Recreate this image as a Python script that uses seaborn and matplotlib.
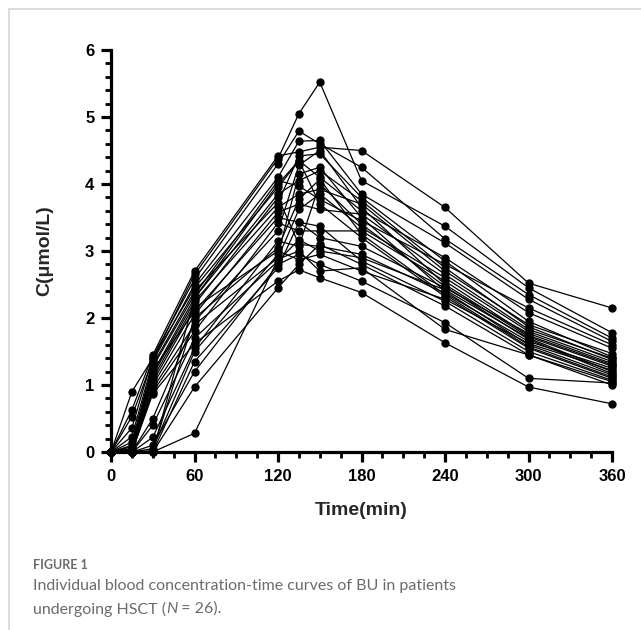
import numpy as np
import pandas as pd
import matplotlib
matplotlib.use("Agg")
import matplotlib.pyplot as plt
from matplotlib.lines import Line2D
from matplotlib.ticker import MultipleLocator
import seaborn as sns

times = [0, 15, 30, 60, 120, 135, 150, 180, 240, 300, 360]
c0 = [0.0] * 26
c15 = [0.90, 0.63, 0.53, 0.36, 0.23, 0.15, 0.10, 0.08, 0.05, 0.05, 0.03, 0.02, 0, 0, 0, 0, 0, 0, 0, 0, 0, 0, 0, 0, 0, 0]
c30 = [1.40, 1.45, 1.38, 1.42, 1.35, 1.30, 1.27, 1.22, 1.18, 1.15, 1.10, 1.05, 1.00, 0.95, 0.90, 0.87, 0.50, 0.40, 0.22, 0.10, 0.05, 0.02, 0, 0, 0, 0]
c60 = [2.45, 2.70, 2.65, 2.58, 2.50, 2.40, 2.35, 2.10, 2.30, 2.25, 2.20, 2.15, 2.05, 1.90, 1.80, 1.62, 1.95, 1.70, 1.55, 1.20, 1.50, 2.00, 2.30, 1.35, 0.97, 0.28]
c120 = [3.95, 4.42, 4.38, 4.30, 4.10, 3.72, 4.05, 3.50, 3.85, 3.65, 3.80, 3.00, 3.58, 2.90, 3.42, 2.55, 3.30, 2.85, 3.15, 2.80, 2.95, 3.05, 4.00, 2.75, 2.45, 2.88]
c135 = [4.35, 4.48, 5.05, 4.79, 4.64, 4.42, 3.97, 3.43, 4.05, 3.85, 3.10, 2.87, 3.70, 3.62, 3.30, 2.72, 4.28, 3.17, 3.07, 2.95, 4.15, 3.77, 4.35, 3.43, 2.80, 3.00]
c150 = [4.10, 4.55, 5.52, 4.60, 4.65, 4.45, 3.77, 3.20, 4.20, 3.92, 3.07, 2.95, 3.62, 3.85, 3.30, 2.60, 4.50, 3.00, 4.00, 2.80, 4.25, 4.07, 3.70, 3.37, 3.10, 2.70]
c180 = [3.60, 4.50, 4.05, 4.25, 3.85, 3.80, 3.45, 3.07, 3.75, 3.70, 2.95, 2.70, 3.55, 3.35, 3.30, 2.38, 3.65, 2.90, 3.40, 2.55, 3.50, 3.25, 3.20, 2.85, 2.80, 2.75]
c240 = [2.90, 3.65, 3.37, 3.18, 3.12, 2.85, 2.80, 2.45, 2.75, 2.70, 2.37, 2.28, 2.65, 2.60, 2.55, 1.63, 2.50, 2.42, 2.47, 1.93, 2.40, 2.35, 2.32, 2.25, 2.18, 1.83]
c300 = [2.08, 2.52, 2.45, 2.35, 2.28, 1.95, 2.15, 1.77, 1.87, 1.90, 1.65, 1.62, 1.83, 1.80, 1.74, 0.97, 1.72, 1.70, 1.68, 1.10, 1.60, 1.57, 1.55, 1.50, 1.45, 1.45]
c360 = [1.55, 2.15, 1.78, 1.70, 1.65, 1.42, 1.60, 1.32, 1.38, 1.47, 1.25, 1.22, 1.40, 1.35, 1.30, 0.72, 1.28, 1.20, 1.17, 1.03, 1.15, 1.12, 1.10, 1.07, 1.05, 1.00]

x_ticks = [0, 60, 120, 180, 240, 300, 360]
y_ticks = [0, 1, 2, 3, 4, 5, 6]

cols = [c0, c15, c30, c60, c120, c135, c150, c180, c240, c300, c360]
rows = []
for t, col in zip(times, cols):
    for pid, v in enumerate(col):
        rows.append({"patient": pid, "time": t, "conc": v})
df = pd.DataFrame(rows)

sns.set_style("white")
plt.rcParams['font.family'] = ['Liberation Sans', 'DejaVu Sans']

fig = plt.figure(figsize=(6.41, 6.30), dpi=100)
ax = fig.add_axes([0.1732, 0.2825, 0.7816, 0.6381])

sns.lineplot(data=df, x="time", y="conc", units="patient", estimator=None,
             color="black", linewidth=0.9, marker="o", markersize=6.0,
             markeredgecolor="black", markerfacecolor="black", markeredgewidth=0,
             ax=ax, sort=False)
for ln in ax.lines:
    ln.set_clip_on(False)

ax.set_xlim(0, 360)
ax.set_ylim(0, 6)
ax.set_xticks(x_ticks)
ax.set_yticks(y_ticks)
ax.xaxis.set_minor_locator(MultipleLocator(15))
ax.yaxis.set_minor_locator(MultipleLocator(0.2))
for s in ["top", "right"]:
    ax.spines[s].set_visible(False)
for s in ["left", "bottom"]:
    ax.spines[s].set_linewidth(2.3)
    ax.spines[s].set_color("black")
ax.tick_params(which="major", direction="out", length=7, width=2.3, colors="black",
               labelsize=12, pad=5, bottom=True, left=True)
ax.tick_params(which="minor", direction="out", length=4.5, width=2.0, colors="black",
               bottom=True, left=True)
for lab in ax.get_xticklabels() + ax.get_yticklabels():
    lab.set_fontweight("bold")
ax.set_xlabel("Time(min)", fontsize=14, fontweight="bold", labelpad=13)
ax.set_ylabel("C(μmol/L)", fontsize=14, fontweight="bold", labelpad=23)

# page frame lines
fig.add_artist(Line2D([9/641, 1.0], [1 - 9/630, 1 - 9/630], color="#d6d6d6", linewidth=1.2))
fig.add_artist(Line2D([9/641, 9/641], [0.0, 1 - 9/630], color="#d6d6d6", linewidth=1.2))

capfont = ['Lato', 'DejaVu Sans']
fs = 11.5
fig.text(33/641, 1 - 565/630, "FIGURE 1", fontsize=9, fontweight="bold", color="#6b6b6b",
         family=capfont, va="center", ha="left")
fig.text(33/641, 1 - 586/630, "Individual blood concentration-time curves of BU in patients",
         fontsize=fs, color="#6b6b6b", family=capfont, va="center", ha="left")
t1 = fig.text(33/641, 1 - 609/630, "undergoing HSCT (", fontsize=fs, color="#6b6b6b",
              family=capfont, va="center", ha="left")
fig.canvas.draw()
x1 = t1.get_window_extent().x1 / fig.bbox.width
t2 = fig.text(x1, 1 - 609/630, "N", fontsize=fs, color="#6b6b6b", family=capfont,
              style="italic", va="center", ha="left")
fig.canvas.draw()
x2 = t2.get_window_extent().x1 / fig.bbox.width
fig.text(x2, 1 - 609/630, " = 26).", fontsize=fs, color="#6b6b6b", family=capfont,
         va="center", ha="left")

fig.savefig("out.png", dpi=100)
